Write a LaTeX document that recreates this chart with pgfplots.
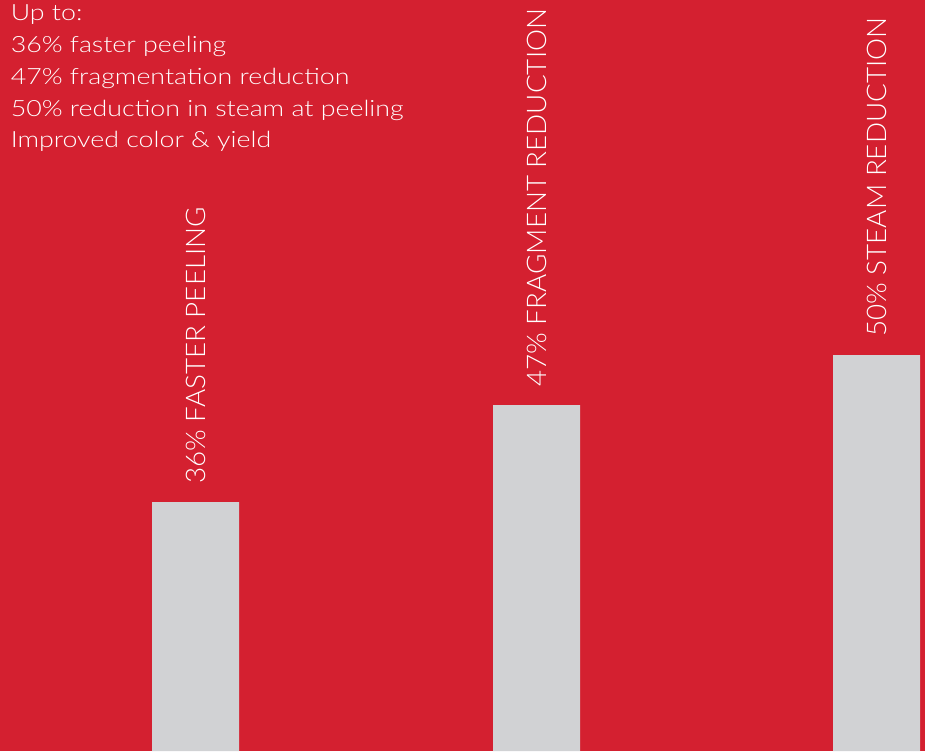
\documentclass[border=0pt]{standalone}
\usepackage{fontspec}
\setmainfont{Lato}[UprightFont={* Light}]
\newfontfamily\topfont{Lato}[UprightFont={* Light}, FakeStretch=1.195]
\newfontfamily\labfont{Lato}[UprightFont={* Light}, FakeStretch=1.03]
\usepackage{pgfplots}
\pgfplotsset{compat=1.18}
\usepackage{pgfplotstable}
\definecolor{bgred}{RGB}{212,32,48}
\definecolor{bargray}{RGB}{209,210,212}
\pgfplotstableread{
x h label
195.5 249 {36\% FASTER PEELING}
536.5 346 {47\% FRAGMENT REDUCTION}
876.5 396 {50\% STEAM REDUCTION}
}\bars
\begin{document}
\begin{tikzpicture}
\begin{axis}[
  width=462.5pt, height=375.5pt, scale only axis,
  xmin=0, xmax=925, ymin=0, ymax=751,
  axis lines=none, ticks=none,
  clip=false,
]
\fill[bgred] (rel axis cs:0,0) rectangle (rel axis cs:1,1);
\addplot[ybar, bar width=87, fill=bargray, draw=none,
  nodes near coords, point meta=explicit symbolic,
  every node near coord/.style={overlay, rotate=90, anchor=west, inner xsep=9pt, inner ysep=0pt,
    text=white, font=\labfont\fontsize{13.5}{16}\selectfont}]
  table[x=x, y=h, meta=label] {\bars};
\node[overlay, anchor=north west, align=left, text=white, inner sep=0pt,
  font=\topfont\fontsize{11.2}{15.9}\selectfont]
  at ([xshift=5.2pt,yshift=-2.2pt]rel axis cs:0,1)
  {Up to:\\36\% faster peeling\\47\% fragmentation reduction\\50\% reduction in steam at peeling\\Improved color \& yield};
\end{axis}
\end{tikzpicture}
\end{document}
